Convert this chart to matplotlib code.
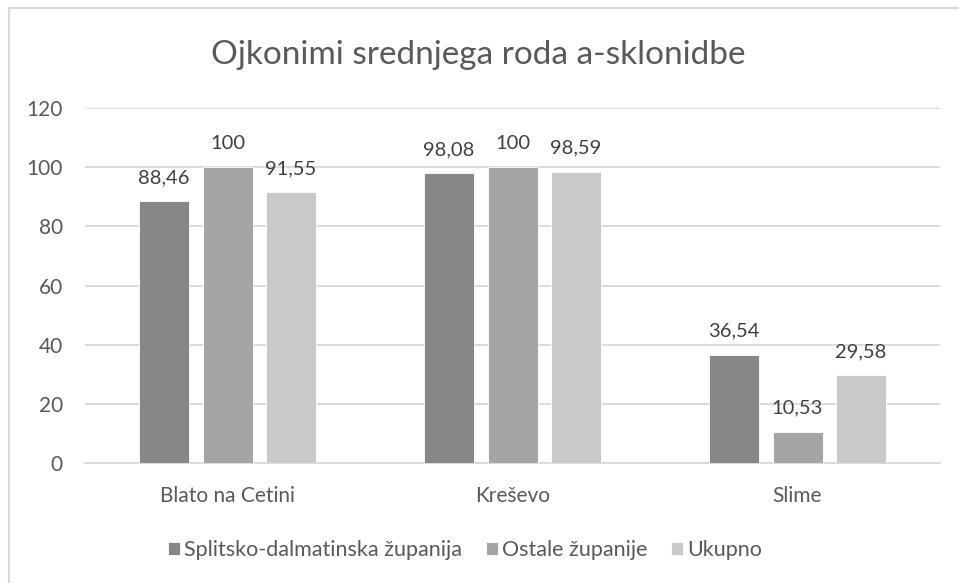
import numpy as np
import matplotlib
matplotlib.use("Agg")
import matplotlib.pyplot as plt
from matplotlib.lines import Line2D

plt.rcParams['font.family'] = ['Lato', 'DejaVu Sans']

# data #
categories = ["Blato na Cetini", "Kreševo", "Slime"]
series_names = ["Splitsko-dalmatinska županija", "Ostale županije", "Ukupno"]
series_values = [
    [88.46, 98.08, 36.54],
    [100, 100, 10.53],
    [91.55, 98.59, 29.58],
]
colors = ["#878787", "#a5a5a5", "#c9c9c9"]
y_ticks = [0, 20, 40, 60, 80, 100, 120]

title_col = "#595959"
label_col = "#404040"

fig = plt.figure(figsize=(9.59, 5.83), dpi=100)
ax = fig.add_axes([85/959, 1 - 462.7/583, 855/959, (462.7 - 108.3)/583])

# outer chart frame (only top/left visible in the reference)
fig.add_artist(Line2D([8.5/959, 8.5/959], [0, 1 - 8/583], transform=fig.transFigure,
                      color="#d9d9d9", lw=1.5))
fig.add_artist(Line2D([8.5/959, 1], [1 - 8/583, 1 - 8/583], transform=fig.transFigure,
                      color="#d9d9d9", lw=1.5))

x = np.arange(len(categories))
width = 50/285
step = 63.5/285
for i, (name, vals) in enumerate(zip(series_names, series_values)):
    pos = x + (i - 1) * step
    bars = ax.bar(pos, vals, width, color=colors[i], label=name,
                  edgecolor="white", linewidth=0.6, zorder=3)
    for b, v in zip(bars, vals):
        ax.annotate(f"{v:g}".replace(".", ","), (b.get_x() + b.get_width()/2, v),
                    xytext=(0, 13), textcoords="offset points",
                    ha="center", va="baseline", fontsize=14.5, color=label_col,
                    annotation_clip=False)

ax.set_xlim(-0.5, 2.5)
ax.set_ylim(0, 120)
ax.set_yticks(y_ticks)
ax.set_yticklabels([str(t) for t in y_ticks])
ax.yaxis.grid(True, color="#d9d9d9", lw=1.3, zorder=0)
ax.set_axisbelow(True)
ax.set_xticks(x)
ax.set_xticklabels(categories)
ax.tick_params(axis='both', length=0, labelsize=15, labelcolor=title_col)
ax.tick_params(axis='y', pad=16)
ax.tick_params(axis='x', pad=17)
for s in ["top", "right", "left"]:
    ax.spines[s].set_visible(False)
ax.spines["bottom"].set_color("#d9d9d9")
ax.spines["bottom"].set_linewidth(1.3)

fig.text(478/959, 1 - 55/583, "Ojkonimi srednjega roda a-sklonidbe", ha="center", va="center",
         fontsize=24, color=title_col)

fig.legend(loc="center", bbox_to_anchor=(465/959, 1 - 550/583), ncol=3, frameon=False,
           fontsize=15.5, labelcolor=title_col, handlelength=0.55, handleheight=0.55,
           handletextpad=0.2, columnspacing=1.1)

fig.savefig("out.png", dpi=100)
